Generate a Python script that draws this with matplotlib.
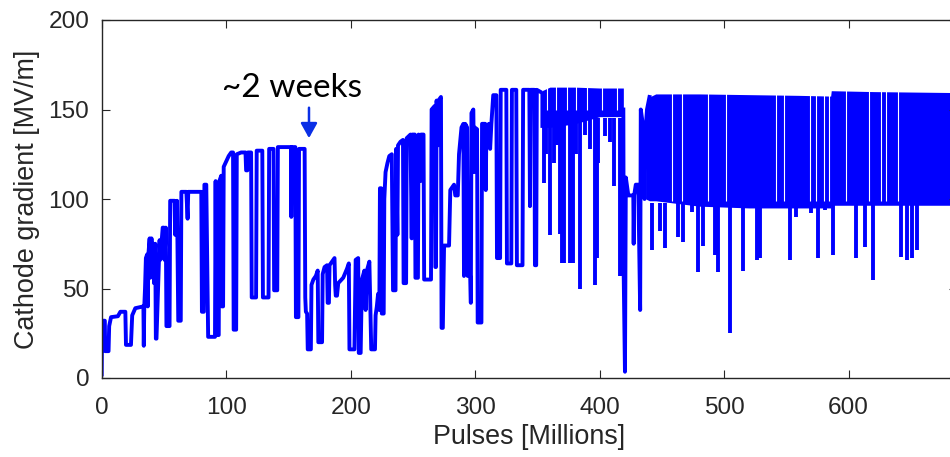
import matplotlib
matplotlib.use('Agg')
from matplotlib import pyplot as plt

# main trace (pulses in millions, gradient in MV/m)
pulses = [0, 0.3, 2.5, 2.8, 5.5, 6, 7.5, 13, 15, 19, 19.5, 23.5, 24.5, 27, 33.5, 33.8, 34.2, 34.8,
          35.5, 36.5, 37, 37.5, 38.5, 39, 40, 40.5, 41.5, 42, 43, 43.5, 44, 46.5, 47, 49, 50, 50.5,
          51.5, 52, 54.5, 55, 56.5, 58.5, 59, 60.5, 61.5, 63.5, 64, 66, 68, 69, 69.5, 72, 80,
          80.5, 82, 82.5, 84, 85.5, 91, 91.5, 92, 94, 94.5, 96, 96.5, 97.5, 98, 100, 102, 104,
          105.5, 106, 108, 108.5, 112, 115.5, 116, 117, 117.5, 120, 120.5, 124, 124.5, 129,
          129.5, 134, 134.5, 138, 138.5, 141, 141.5, 152, 152.3, 152.8, 155.5, 156, 158, 158.5,
          163, 163.5, 164, 165, 165.5, 168, 168.5, 170, 172, 173.5, 174, 177, 177.5, 179, 181,
          181.5, 182.5, 183, 185, 187, 187.5, 188, 189, 190, 194, 197, 198.5, 199, 203, 204, 206,
          206.5, 208, 209, 211, 212, 213, 215, 216.5, 219.5, 220, 221, 222, 223, 223.5, 224.5,
          225, 226.5, 227, 228, 229.5, 231, 233, 234, 236, 236.5, 237.5, 238, 240, 242, 242.5,
          244.5, 245, 248, 249, 249.5, 251.5, 252, 254, 254.5, 256, 256.5, 258.5, 259, 264.5,
          265, 267.5, 268, 268.5, 269, 270, 270.5, 272.5, 273, 274, 275, 279, 280, 283, 284, 286,
          287, 289, 290.5, 291, 292, 293.5, 294, 296, 296.5, 297, 298.5, 299, 299.5, 301.5, 302,
          305, 305.5, 308, 308.5, 309, 311, 312, 313, 314.5, 317, 317.5, 320, 320.5, 325, 325.5,
          329, 329.5, 333, 333.5, 338, 338.5, 343.5, 344, 344.5, 347.5, 348, 349, 349.5, 352]
gradient = [2, 32, 32, 15, 15, 29, 34, 34.5, 37, 37, 18.5, 18.5, 35, 39, 40, 18, 40, 50,
            67, 69, 40, 69, 78, 56, 78, 60, 75, 53, 75, 22, 22, 77, 66, 84, 84, 66,
            84, 29, 29, 99, 99, 99, 80, 99, 32, 32, 104, 104, 104, 89, 104, 104, 104,
            37, 37, 108, 108, 23, 23, 110, 24, 24, 110, 113, 40, 40, 118, 121, 124, 126,
            126, 27, 27, 125, 126, 126, 116, 116, 126, 126, 45, 45, 127, 127,
            45, 45, 128, 128, 49, 49, 129, 129, 90, 129, 129, 34, 34, 128,
            128, 45, 37, 36, 16, 16, 52, 55, 57, 60, 20, 20, 58, 62, 63,
            42, 42, 63, 65, 67, 52, 46, 46, 53, 56, 61, 64, 16, 16, 66, 67,
            14, 14, 55, 60, 38, 60, 65, 16, 16, 35, 40, 47, 38, 106, 106,
            36, 36, 100, 115, 120, 124, 125, 49, 49, 128, 80, 130, 132, 133, 53,
            53, 134, 136, 78, 136, 136, 56, 56, 136, 110, 136, 136, 55, 55,
            150, 152, 62, 62, 155, 130, 155, 157, 28, 28, 74, 74, 105, 108, 102, 102,
            125, 140, 142, 57, 142, 140, 57, 57, 42, 148, 150, 115, 140, 139, 31,
            31, 142, 142, 105, 140, 142, 128, 142, 158, 158, 67, 67, 161, 161, 64,
            64, 161, 161, 63, 63, 161, 161, 96, 161, 161, 63, 63, 161, 160]

# trace after the first dense stretch
pulses_mid = [419, 419.3, 420.3, 421, 423, 427, 427.3, 427.7, 429, 431, 432.5, 433, 434, 435,
              436, 437, 438, 440]
gradient_mid = [150, 57, 3.5, 112, 102, 102, 75, 102, 108, 108, 38, 150, 145, 139, 100, 140,
                150, 157]

# dense stretches: upper and lower envelope
band1_x = [352, 360, 380, 400, 419]
band1_top = [160, 162.5, 162.5, 162, 162]
band1_low = [140, 140, 142, 146, 146]
band2_x = [437, 440, 445, 480, 520, 560, 585.5, 586, 620, 681]
band2_top = [150, 157, 158.7, 158.7, 158.3, 157.9, 157.5, 160.5, 160, 159.5]
band2_low = [100, 99, 99, 96, 95, 95, 95, 96.5, 96.5, 96.5]

# downward spikes out of the dense stretches
dip1_x = [355, 357, 360, 363, 366, 368, 370, 371.5, 376, 378.5, 381, 384, 388, 392, 396, 397.5,
          399, 404, 408, 411.6, 416, 418]
dip1_y = [109, 125, 80, 120, 130, 80.6, 64, 64, 64, 64, 125, 50, 136, 128, 52, 67, 120, 135,
          132, 107, 57, 57]
dip2_x = [441.7, 448.7, 452.4, 463, 467, 474, 479, 483, 492.6, 495.3, 504.6, 515.4, 526,
          528.7, 552.8, 558, 570, 575, 581, 587.6, 606, 613, 619.3, 641.9, 647, 651, 654.5]
dip2_y = [71.5, 82, 72.4, 79, 76, 93, 59, 74, 68.7, 59.4, 25, 60, 65.9, 67, 66, 90, 92, 67,
          94, 68.7, 66.8, 73.4, 54.7, 67.8, 66, 66.8, 71.5]

# thin white gaps inside the dense stretches
gap1_x = [358, 365, 374, 381, 390, 402, 414]
gap2_x = [458, 466, 487, 501.5, 542, 548, 569, 574, 580, 584, 598, 616, 626, 629.6, 640]

blue = '#0000ff'
grey = '#262626'
lw = 2.8

fig = plt.figure(figsize=(9.5, 4.57), dpi=100)
ax = fig.add_axes([101.7 / 950, 79 / 457, (957 - 101.7) / 950, 358 / 457])

ax.fill_between(band1_x, band1_low, band1_top, color=blue, lw=0)
ax.fill_between(band2_x, band2_low, band2_top, color=blue, lw=0)
ax.vlines(gap1_x, 150, 163, color='white', lw=0.8)
ax.vlines(gap2_x, 99, 161, color='white', lw=0.8)
ax.vlines(dip1_x, dip1_y, 145, color=blue, lw=lw)
ax.vlines(dip2_x, dip2_y, 98, color=blue, lw=lw)
ax.plot(pulses, gradient, color=blue, lw=lw)
ax.plot(pulses_mid, gradient_mid, color=blue, lw=lw)

ax.set_xlim(0, 687)
ax.set_ylim(0, 200)
ax.set_xticks([0, 100, 200, 300, 400, 500, 600])
ax.set_yticks([0, 50, 100, 150, 200])

for s in ax.spines.values():
    s.set_color(grey)
    s.set_linewidth(1.0)
ax.tick_params(direction='in', length=6, width=0.8, top=True, right=True,
               labelsize=17.6, colors=grey)
ax.tick_params(axis='x', pad=14)
ax.tick_params(axis='y', pad=9)
for lab in ax.get_xticklabels() + ax.get_yticklabels():
    lab.set_family('Liberation Sans')

ax.set_xlabel('Pulses [Millions]', fontsize=19.4, family='Liberation Sans', color=grey, labelpad=3)
ax.set_ylabel('Cathode gradient [MV/m]', fontsize=19.4, family='Liberation Sans', color=grey, labelpad=6)

ax.text(153, 157, '~2 weeks', fontsize=24, family='Lato', color='black', ha='center', va='baseline')
ax.annotate('', xy=(166.5, 134), xytext=(166.5, 151),
            arrowprops=dict(arrowstyle='-|>,head_length=0.9,head_width=0.5', color='#0a2fe6',
                            lw=1.8, shrinkA=0, shrinkB=0))

fig.savefig('out.png', dpi=100)
